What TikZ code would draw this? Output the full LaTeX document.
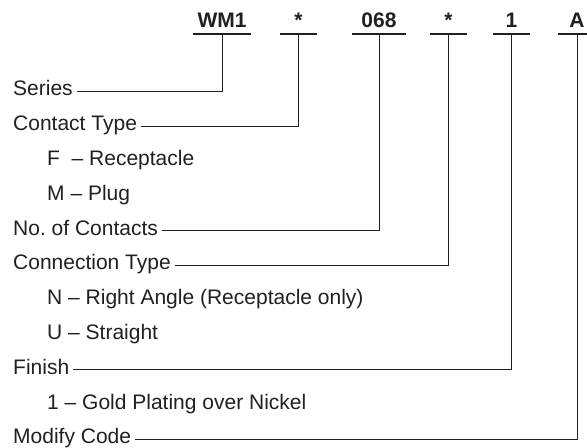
\documentclass[tikz,border=0pt]{standalone}
\usepackage{fontspec}
\setmainfont{Liberation Sans}
\usetikzlibrary{positioning}
\definecolor{ink}{RGB}{35,31,32}

\begin{document}
\begin{tikzpicture}[
    x=1bp, y=-1bp,
    node distance=15.4bp,
    every node/.style={font=\fontsize{21bp}{25bp}\selectfont, text=ink},
    field/.style={inner xsep=4bp, inner ysep=0pt, text height=14bp, text depth=5bp},
    row/.style={below=of #1, anchor=north west},
    indent/.style={xshift=34bp},
    outdent/.style={xshift=-34bp},
    code/.style={font=\fontsize{21bp}{25bp}\selectfont\bfseries, inner xsep=0pt, inner ysep=6.5bp, text depth=0pt, minimum width=#1, anchor=base},
    bar/.style={draw=ink, line width=2.6bp},
    link/.style={draw=ink, line width=1bp}
]
\useasboundingbox (0,0) rectangle (587,448);

% Part number fields
\node[code=58bp] (wm1) at (222,27.5) {WM1};
\node[code=37bp] (ctype) at (298.5,27.5) {*};
\node[code=53bp] (ncont) at (379,27.5) {068};
\node[code=37bp] (conn) at (448.5,27.5) {*};
\node[code=37bp] (fin) at (511.5,27.5) {1};
\node[code=37bp] (mod) at (577,27.5) {A};
\foreach \c in {wm1, ctype, ncont, conn, fin, mod}
    \draw[bar] (\c.south west) -- (\c.south east);

% Descriptions
\node[field, anchor=base west] (series) at (9,96) {Series};
\node[field, row=series.south west] (contact) {Contact Type};
\node[field, row=contact.south west, indent] (recep) {F~~-- Receptacle};
\node[field, row=recep.south west] (plug) {M -- Plug};
\node[field, row=plug.south west, outdent] (count) {No.\ of Contacts};
\node[field, row=count.south west] (ctn) {Connection Type};
\node[field, row=ctn.south west, indent] (angle) {N -- Right Angle (Receptacle only)};
\node[field, row=angle.south west] (straight) {U -- Straight};
\node[field, row=straight.south west, outdent] (finish) {Finish};
\node[field, row=finish.south west, indent] (gold) {1 -- Gold Plating over Nickel};
\node[field, row=gold.south west, outdent] (modify) {Modify Code};

% Leaders
\draw[link] (series.east) -| (wm1.south);
\draw[link] (contact.east) -| (ctype.south);
\draw[link] (count.east) -| (ncont.south);
\draw[link] (ctn.east) -| (conn.south);
\draw[link] (finish.east) -| (fin.south);
\draw[link] (modify.east) -| (mod.south);

\end{tikzpicture}
\end{document}
